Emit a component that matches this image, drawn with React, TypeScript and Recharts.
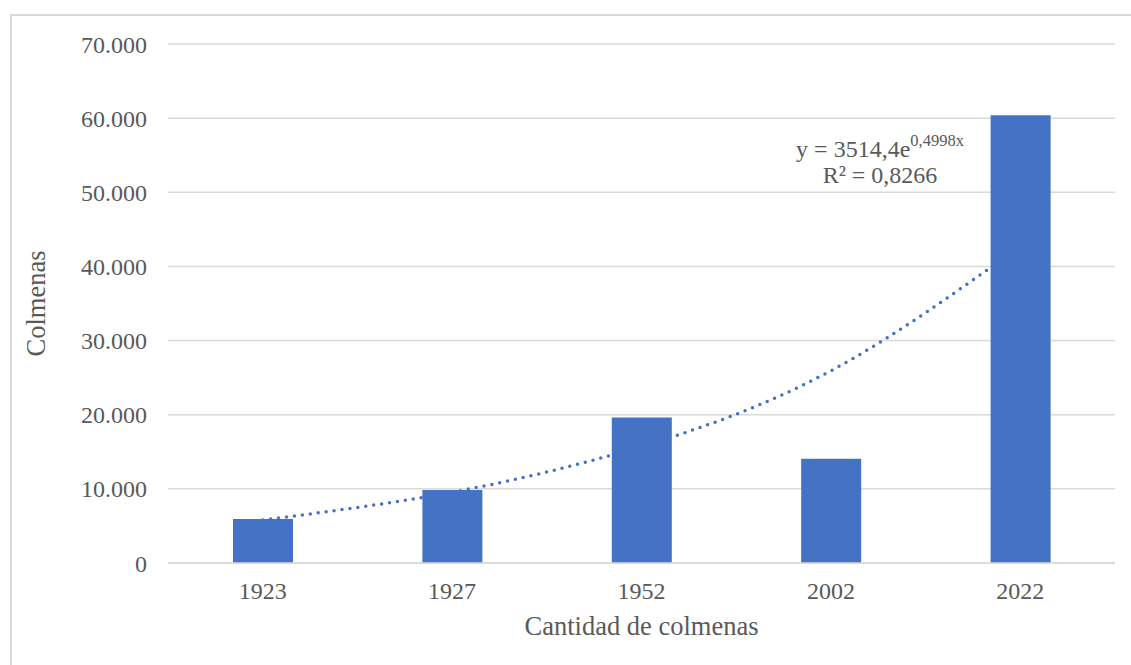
import { ComposedChart, Bar, Line, XAxis, YAxis, CartesianGrid } from 'recharts';

const years = ['1923', '1927', '1952', '2002', '2022'];
const hives = [5930, 9840, 19640, 14060, 60380];
// exponential trendline
const trend = [5790, 9550, 15730, 25930, 42730];
const yTicks = [0, 10000, 20000, 30000, 40000, 50000, 60000, 70000];

const data = years.map((year, i) => ({ year, hives: hives[i], trend: trend[i] }));

const font = '"Liberation Serif", "Times New Roman", serif';
const grey = '#595959';

const fmt = (v: number) => (v === 0 ? '0' : v.toString().replace(/\B(?=(\d{3})+(?!\d))/g, '.'));

export default function App() {
  return (
    <div style={{ position: 'absolute', left: 0, top: 0, width: 1131, height: 665, overflow: 'hidden', background: '#fff', fontFamily: font }}>
      <div style={{ position: 'absolute', left: 10, top: 14, width: 1200, height: 700, borderTop: '2px solid #d9d9d9', borderLeft: '2px solid #d9d9d9' }} />
      <ComposedChart width={1131} height={665} data={data} margin={{ top: 44, right: 16, bottom: 0, left: 0 }} style={{ position: 'absolute', left: 0, top: 0 }}>
        <CartesianGrid vertical={false} stroke="#d9d9d9" strokeWidth={1.5} />
        <XAxis
          dataKey="year"
          height={102}
          axisLine={{ stroke: '#d9d9d9', strokeWidth: 1.5 }}
          tickLine={false}
          tickMargin={13}
          tick={{ fill: grey, fontSize: 24, fontFamily: font }}
          label={{ value: 'Cantidad de colmenas', position: 'insideBottom', offset: 30, fill: grey, fontSize: 26.5, fontFamily: font }}
        />
        <YAxis
          width={168}
          domain={[0, 70000]}
          ticks={yTicks}
          tickFormatter={fmt}
          axisLine={false}
          tickLine={false}
          tickMargin={15}
          tick={{ fill: grey, fontSize: 24, fontFamily: font }}
          label={{ value: 'Colmenas', angle: -90, position: 'insideLeft', offset: 36, fill: grey, fontSize: 26.5, fontFamily: font, style: { textAnchor: 'middle' } }}
        />
        <Line
          dataKey="trend"
          type="natural"
          stroke="#4472C4"
          strokeWidth={3.5}
          strokeDasharray="0 8"
          strokeLinecap="round"
          dot={false}
          activeDot={false}
          isAnimationActive={false}
        />
        <Bar dataKey="hives" fill="#4472C4" barSize={60} isAnimationActive={false} />
      </ComposedChart>
      <div style={{ position: 'absolute', left: 780, top: 136, width: 200, textAlign: 'center', color: grey, fontSize: 24, lineHeight: '26px' }}>
        <div>y = 3514,4e<sup style={{ fontSize: 16.5, verticalAlign: 'top', lineHeight: '16px', position: 'relative', top: -3 }}>0,4998x</sup></div>
        <div>R² = 0,8266</div>
      </div>
    </div>
  );
}
